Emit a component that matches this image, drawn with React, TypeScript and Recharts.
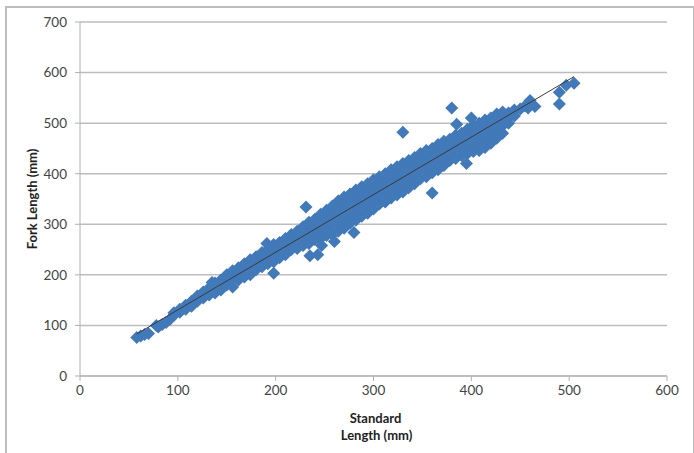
import React from 'react';
import { CartesianGrid, Label, Scatter, ScatterChart, XAxis, YAxis } from 'recharts';

const X_TICKS = [0, 100, 200, 300, 400, 500, 600];
const Y_TICKS = [0, 100, 200, 300, 400, 500, 600, 700];

// standard length of each column of fish, fork lengths
const standardLengths = [
    58, 62, 66, 70, 78, 80, 84, 88, 92, 96, 102, 108, 114, 120, 126, 132, 135, 138, 144, 150, 156, 162, 168, 174,
    180, 186, 192, 198, 204, 210, 216, 222, 228, 234, 240, 246, 252, 258, 264, 270, 276, 282, 288, 294, 300,
    306, 312, 318, 324, 330, 336, 342, 348, 354, 360, 366, 372, 378, 384, 390, 396, 402, 408, 414, 420, 426,
    432, 438, 444, 450, 455,
];

const forkLengths = [
    [76], [79], [82], [84], [100], [97], [102], [106], [112], [120, 125], [126, 132], [132, 140], [138, 148], [148, 158],
    [154, 166], [160, 174], [185], [164, 184], [170, 190], [180, 200], [176, 190, 208], [190, 200, 214], [196, 210, 222],
    [200, 220, 230], [210, 230, 236], [216, 220, 240, 244], [222, 230, 250], [226, 240, 260], [234, 250, 264],
    [240, 260, 272], [250, 270, 280], [252, 260, 280, 286], [258, 270, 290, 295], [262, 280, 300, 304], [270, 290, 310],
    [272, 280, 300, 320], [278, 290, 310, 328], [280, 300, 320, 336], [286, 298, 310, 330, 346], [292, 300, 320, 340, 354],
    [302, 310, 330, 350, 360], [308, 320, 340, 360, 368], [316, 330, 350, 370, 374], [322, 340, 360, 380],
    [330, 350, 370, 388], [340, 360, 380, 394], [344, 350, 370, 390, 400], [352, 360, 380, 400, 408],
    [358, 370, 390, 410, 414], [364, 380, 400, 420], [372, 390, 410, 426], [380, 400, 420, 432], [390, 410, 430, 440],
    [394, 400, 420, 440, 446], [402, 410, 430, 450], [408, 420, 440, 458], [416, 430, 450, 464], [426, 440, 460, 468],
    [430, 450, 470, 476], [436, 448, 460, 480], [440, 450, 470, 488], [444, 460, 480, 496], [446, 456, 470, 490, 500],
    [452, 464, 480, 500, 506], [460, 475, 490, 510], [470, 485, 500, 518], [480, 495, 510, 522], [500, 510, 520], [514, 526], [528], [534],
];

const outlierX = [191, 198, 231, 235, 243, 247, 260, 280, 330, 360, 380, 385, 395, 400, 458, 460, 465, 490, 490, 497, 505];
const outlierY = [262, 203, 334, 238, 240, 258, 266, 284, 482, 362, 530, 498, 420, 510, 530, 545, 533, 538, 561, 575, 579];

const trendX = [58, 505];
const trendY = [83, 592];

const fishPoints = [
    ...standardLengths.flatMap((x, i) => forkLengths[i].map((y) => ({ x, y }))),
    ...outlierX.map((x, i) => ({ x, y: outlierY[i] })),
];
const trendPoints = trendX.map((x, i) => ({ x, y: trendY[i] }));

const GREY = '#bdbdbd';
const FONT = 'Lato, sans-serif';

const Diamond = ({ cx, cy }: { cx?: number; cy?: number }) => {
    const r = 6.5;
    return <path d={`M${cx} ${(cy as number) - r}L${(cx as number) + r} ${cy}L${cx} ${(cy as number) + r}L${(cx as number) - r} ${cy}Z`} fill="#4179b9" />;
};

const App = () => {
    const tick = { fill: '#444444', fontSize: 13.5, fontFamily: FONT };
    const title = { fill: '#222222', fontSize: 13, fontWeight: 700, fontFamily: FONT };

    return (
        <div style={{ position: 'absolute', left: 0, top: 0, width: 694, height: 453, overflow: 'hidden', background: '#fff' }}>
            <div style={{ position: 'absolute', left: 5, top: 6, width: 686, height: 460, border: `2px solid ${GREY}`, boxSizing: 'content-box' }} />
            <div style={{ position: 'absolute', left: 0, top: 0 }}>
                <ScatterChart width={694} height={453} margin={{ top: 22, right: 27, bottom: 0, left: 0 }}>
                    <CartesianGrid vertical={false} stroke={GREY} strokeWidth={1.5} />
                    <XAxis
                        type="number"
                        dataKey="x"
                        domain={[0, 600]}
                        ticks={X_TICKS}
                        height={77}
                        interval={0}
                        tick={tick}
                        tickSize={5}
                        tickMargin={4}
                        stroke="#b0b0b0"
                    >
                        <Label value="Standard" position="insideBottom" offset={30} dx={2} style={title} />
                        <Label value="Length (mm)" position="insideBottom" offset={13} dx={3} style={title} />
                    </XAxis>
                    <YAxis
                        type="number"
                        dataKey="y"
                        domain={[0, 700]}
                        ticks={Y_TICKS}
                        width={80}
                        interval={0}
                        tick={tick}
                        tickSize={5}
                        tickMargin={8}
                        stroke="#b0b0b0"
                    >
                        <Label value="Fork Length (mm)" angle={-90} position="insideLeft" offset={32} style={{ ...title, textAnchor: 'middle' }} />
                    </YAxis>
                    <Scatter data={fishPoints} shape={Diamond} isAnimationActive={false} />
                    <Scatter data={trendPoints} line={{ stroke: '#3a3a3a', strokeWidth: 1 }} shape={() => <g />} isAnimationActive={false} />
                </ScatterChart>
            </div>
        </div>
    );
};

export default App;
